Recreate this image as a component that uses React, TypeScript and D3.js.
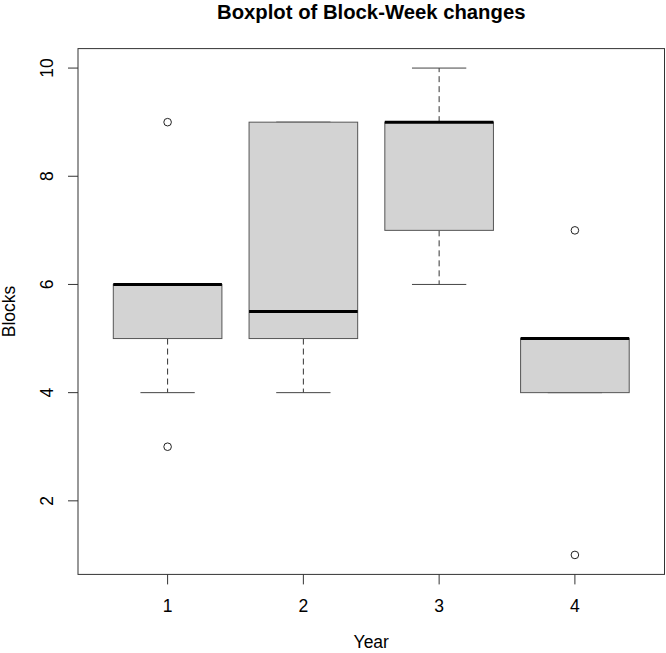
import React from "react";
import * as d3 from "d3";

const categories = ["1", "2", "3", "4"];
const whiskerLow = [4, 4, 6, 4];
const q1 = [5, 5, 7, 4];
const median = [6, 5.5, 9, 5];
const q3 = [6, 9, 9, 5];
const whiskerHigh = [6, 9, 10, 5];
const outliers = [[9, 3], [], [], [7, 1]];
const yTicks = [2, 4, 6, 8, 10];

const W = 666, H = 653;
const left = 78, right = 664.5, top = 48.6, bottom = 574.4;

export default function App() {
  const x = d3.scaleLinear().domain([0.34, 4.66]).range([left, right]);
  const y = d3.scaleLinear().domain([0.64, 10.36]).range([bottom, top]);
  const bw = x(1.4) - x(1); // half box width
  const sw = bw / 2; // staple half width
  const font = "'Liberation Sans', Arial, Helvetica, sans-serif";
  const lab = 17.5;
  return (
    <svg width={W} height={H} style={{ position: "absolute", left: 0, top: 0, background: "#fff" }}>
      <text x={(left + right) / 2} y={19} textAnchor="middle" fontFamily={font} fontWeight="bold" fontSize={20.3} fill="#000">
        Boxplot of Block-Week changes
      </text>
      {categories.map((c, i) => {
        const cx = x(i + 1);
        return (
          <g key={c}>
            {whiskerHigh[i] > q3[i] && (
              <line x1={cx} x2={cx} y1={y(q3[i])} y2={y(whiskerHigh[i])} stroke="#333" strokeDasharray="6,4" strokeWidth={1} />
            )}
            {whiskerLow[i] < q1[i] && (
              <line x1={cx} x2={cx} y1={y(q1[i])} y2={y(whiskerLow[i])} stroke="#333" strokeDasharray="6,4" strokeWidth={1} />
            )}
            <line x1={cx - sw} x2={cx + sw} y1={y(whiskerHigh[i])} y2={y(whiskerHigh[i])} stroke="#444" strokeWidth={1} />
            <line x1={cx - sw} x2={cx + sw} y1={y(whiskerLow[i])} y2={y(whiskerLow[i])} stroke="#444" strokeWidth={1} />
            <rect x={cx - bw} width={2 * bw} y={y(q3[i])} height={y(q1[i]) - y(q3[i])} fill="#d3d3d3" stroke="#555" strokeWidth={1} />
            <line x1={cx - bw} x2={cx + bw} y1={y(median[i])} y2={y(median[i])} stroke="#000" strokeWidth={3} />
            {outliers[i].map((o, j) => (
              <circle key={j} cx={cx} cy={y(o)} r={3.8} fill="none" stroke="#222" strokeWidth={1} />
            ))}
          </g>
        );
      })}
      <rect x={left} y={top} width={right - left} height={bottom - top} fill="none" stroke="#333" strokeWidth={1} />
      {yTicks.map((t) => (
        <g key={t}>
          <line x1={left - 10} x2={left} y1={y(t)} y2={y(t)} stroke="#333" />
          <text transform={`translate(${left - 31},${y(t)}) rotate(-90)`} textAnchor="middle" dominantBaseline="central" fontFamily={font} fontSize={lab} fill="#000">
            {t}
          </text>
        </g>
      ))}
      {categories.map((c, i) => (
        <g key={c}>
          <line x1={x(i + 1)} x2={x(i + 1)} y1={bottom} y2={bottom + 10} stroke="#333" />
          <text x={x(i + 1)} y={612} textAnchor="middle" fontFamily={font} fontSize={lab} fill="#000">
            {c}
          </text>
        </g>
      ))}
      <text x={(left + right) / 2} y={648} textAnchor="middle" fontFamily={font} fontSize={lab} fill="#000">
        Year
      </text>
      <text transform={`translate(15,${(top + bottom) / 2}) rotate(-90)`} textAnchor="middle" fontFamily={font} fontSize={lab} fill="#000">
        Blocks
      </text>
    </svg>
  );
}
